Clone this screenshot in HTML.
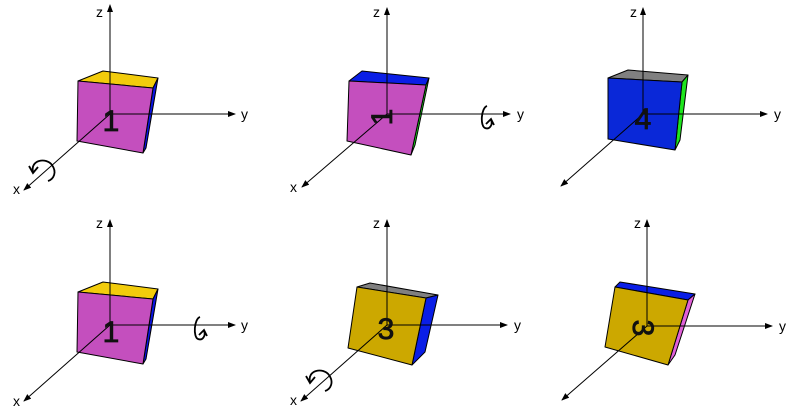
<!DOCTYPE html>
<html><head><meta charset="utf-8"><style>body{margin:0;background:#fff}svg{display:block}text{font-family:"Liberation Sans","DejaVu Sans",sans-serif}</style></head>
<body>
<svg width="800" height="420" viewBox="0 0 800 420" xmlns="http://www.w3.org/2000/svg">
<defs><marker id="a" markerWidth="8" markerHeight="6" refX="7" refY="3" orient="auto" markerUnits="userSpaceOnUse"><path d="M0,0L8,3L0,6z" fill="#000"/></marker></defs>
<g stroke="#000" stroke-width="1" stroke-linejoin="round">
<polygon points="78,81 103,71 158,78 153,88" fill="#f2cc0c"/>
<polygon points="153,88 158,78 146,148 143,153" fill="#0a14e6"/>
<polygon points="78,81 153,88 143,153 77,141" fill="#c44fbe"/>
<polygon points="349,81 362,71 429,78 426,85" fill="#0a1ee6"/>
<polygon points="426,85 429,78 415,145 411,155" fill="#1ee61e"/>
<polygon points="349,81 426,85 411,155 347,141" fill="#c44fbe"/>
<polygon points="608,78 628,70 688,75 682,82" fill="#808080"/>
<polygon points="682,82 688,75 680,140 675,150" fill="#1ee61e"/>
<polygon points="608,78 682,82 675,150 608,139" fill="#0a28d8"/>
<polygon points="78,292 103,282 158,289 153,299" fill="#f2cc0c"/>
<polygon points="153,299 158,289 146,359 143,364" fill="#0a14e6"/>
<polygon points="78,292 153,299 143,364 77,352" fill="#c44fbe"/>
<polygon points="357,287 370,283 438,295 426,298" fill="#808080"/>
<polygon points="426,298 438,295 425,352 412,365" fill="#0a1ee6"/>
<polygon points="357,287 426,298 412,365 348,348" fill="#cca800"/>
<polygon points="615,287 620,282 695,294 688,300" fill="#0a1ee6"/>
<polygon points="688,300 695,294 675,355 668,365" fill="#e060d8"/>
<polygon points="615,287 688,300 668,365 605,347" fill="#cca800"/>
</g>
<g stroke="#000" stroke-width="1" fill="none">
<line x1="110" y1="114" x2="110" y2="5" marker-end="url(#a)"/><line x1="110" y1="114" x2="235" y2="114" marker-end="url(#a)"/><line x1="110" y1="114" x2="24" y2="190" marker-end="url(#a)"/>
<line x1="387" y1="114" x2="387" y2="8" marker-end="url(#a)"/><line x1="387" y1="114" x2="510" y2="114" marker-end="url(#a)"/><line x1="387" y1="114" x2="302" y2="187" marker-end="url(#a)"/>
<line x1="643" y1="114" x2="643" y2="8" marker-end="url(#a)"/><line x1="643" y1="114" x2="767" y2="114" marker-end="url(#a)"/><line x1="643" y1="114" x2="561" y2="186" marker-end="url(#a)"/>
<line x1="110" y1="325" x2="110" y2="220" marker-end="url(#a)"/><line x1="110" y1="325" x2="235" y2="325" marker-end="url(#a)"/><line x1="110" y1="325" x2="24" y2="401" marker-end="url(#a)"/>
<line x1="387" y1="325" x2="387" y2="220" marker-end="url(#a)"/><line x1="387" y1="325" x2="507" y2="325" marker-end="url(#a)"/><line x1="387" y1="325" x2="301" y2="401" marker-end="url(#a)"/>
<line x1="647" y1="326" x2="647" y2="220" marker-end="url(#a)"/><line x1="647" y1="326" x2="772" y2="326" marker-end="url(#a)"/><line x1="647" y1="326" x2="562" y2="400" marker-end="url(#a)"/>
<g stroke-width="1.8">
<path d="M33,172 C30,160 46,157 52,165 C57,172 54,179 48,181"/><path d="M29,166 L33,173 L38,167"/>
<path d="M310,382 C307,370 323,367 329,375 C334,382 331,389 325,391"/><path d="M306,376 L310,383 L315,377"/>
<path d="M487,106 C481,108 480,126 485,128 C490,130 493,124 491,120"/><path d="M486,124 L491,119 L494,125"/>
<path d="M200,317 C194,319 193,337 198,339 C203,341 206,335 204,331"/><path d="M199,335 L204,330 L207,336"/>
</g>
</g>
<g font-size="14" fill="#000">
<text x="96" y="17">z</text><text x="241" y="119">y</text><text x="13" y="194">x</text>
<text x="373" y="17">z</text><text x="517" y="119">y</text><text x="290" y="192">x</text>
<text x="630" y="17">z</text><text x="774" y="119">y</text>
<text x="96" y="228">z</text><text x="241" y="330">y</text><text x="13" y="406">x</text>
<text x="373" y="228">z</text><text x="514" y="330">y</text><text x="290" y="405">x</text>
<text x="634" y="228">z</text><text x="779" y="331">y</text>
</g>
<g font-size="30" fill="#111" stroke="#111" stroke-width="0.8" text-anchor="middle">
<text x="111" y="131">1</text>
<text transform="translate(382,117) rotate(-90)" y="10">1</text>
<text x="643" y="129">4</text>
<text x="111" y="342">1</text>
<text x="386" y="339">3</text>
<text transform="translate(643,328) rotate(90)" y="10">3</text>
</g>
</svg>
</body></html>
